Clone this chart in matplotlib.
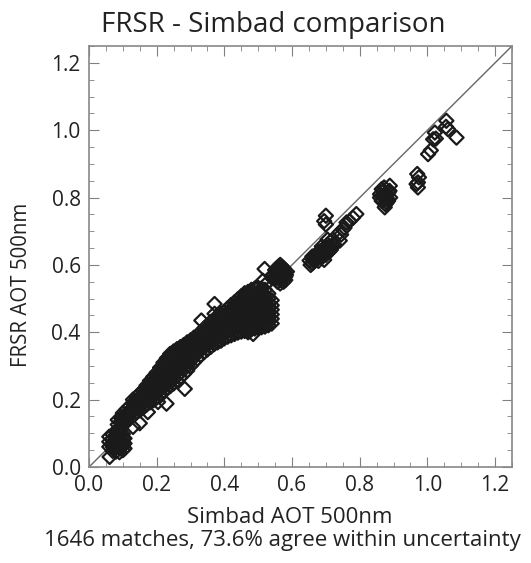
import numpy as np
import matplotlib
matplotlib.use("Agg")
import matplotlib.pyplot as plt
from matplotlib.ticker import MultipleLocator

plt.rcParams['font.family'] = ['Open Sans', 'DejaVu Sans']

# simbad (x) vs frsr (y) AOT at 500nm.
# the dense band is so overplotted that it prints solid black, so it is read
# column by column: x value and the frsr values seen in that column
band_x = [0.06, 0.07, 0.08, 0.09, 0.10, 0.105, 0.085, 0.095,
          0.10, 0.11, 0.12, 0.13, 0.14, 0.15, 0.16, 0.17, 0.18, 0.19,
          0.20, 0.21, 0.22, 0.23, 0.24, 0.25, 0.26, 0.27, 0.28, 0.29,
          0.30, 0.31, 0.32, 0.33, 0.34, 0.35, 0.36, 0.37, 0.38, 0.39,
          0.40, 0.41, 0.42, 0.43, 0.44, 0.45, 0.46, 0.47, 0.48, 0.49,
          0.50, 0.51, 0.52, 0.53, 0.54]
band_y = [
    [0.060, 0.075, 0.090],
    [0.048, 0.060, 0.072, 0.084, 0.096],
    [0.046, 0.058, 0.070, 0.082, 0.094, 0.104],
    [0.044, 0.056, 0.068, 0.080, 0.092, 0.102],
    [0.050, 0.062, 0.074, 0.086, 0.098],
    [0.055, 0.070, 0.085],
    [0.112, 0.126, 0.140],
    [0.116, 0.130, 0.145],
    [0.132, 0.140, 0.150, 0.160],
    [0.135, 0.145, 0.157, 0.170],
    [0.143, 0.155, 0.167, 0.180],
    [0.152, 0.165, 0.177, 0.190, 0.200],
    [0.162, 0.175, 0.186, 0.197, 0.208],
    [0.168, 0.180, 0.193, 0.207, 0.218],
    [0.176, 0.190, 0.203, 0.217, 0.228],
    [0.185, 0.198, 0.209, 0.220, 0.230, 0.242],
    [0.192, 0.205, 0.218, 0.232, 0.245, 0.256],
    [0.198, 0.210, 0.222, 0.234, 0.246, 0.257, 0.268],
    [0.206, 0.220, 0.232, 0.245, 0.258, 0.270, 0.280],
    [0.216, 0.230, 0.243, 0.257, 0.271, 0.285, 0.295],
    [0.224, 0.237, 0.250, 0.263, 0.276, 0.289, 0.300, 0.310],
    [0.232, 0.245, 0.258, 0.272, 0.286, 0.300, 0.313, 0.323],
    [0.240, 0.254, 0.268, 0.283, 0.298, 0.312, 0.326, 0.336],
    [0.248, 0.262, 0.276, 0.290, 0.305, 0.319, 0.333, 0.343],
    [0.256, 0.270, 0.284, 0.298, 0.312, 0.326, 0.340, 0.350],
    [0.266, 0.280, 0.293, 0.306, 0.320, 0.333, 0.346, 0.356],
    [0.276, 0.290, 0.303, 0.315, 0.328, 0.340, 0.353, 0.362],
    [0.286, 0.300, 0.312, 0.324, 0.336, 0.348, 0.360, 0.370],
    [0.300, 0.315, 0.327, 0.340, 0.352, 0.365, 0.376],
    [0.311, 0.326, 0.338, 0.349, 0.361, 0.372, 0.384],
    [0.322, 0.338, 0.348, 0.358, 0.368, 0.378, 0.390],
    [0.332, 0.347, 0.358, 0.369, 0.380, 0.390, 0.401],
    [0.341, 0.356, 0.367, 0.378, 0.389, 0.400, 0.411],
    [0.349, 0.364, 0.376, 0.387, 0.399, 0.410, 0.421],
    [0.357, 0.372, 0.384, 0.396, 0.408, 0.420, 0.431],
    [0.365, 0.380, 0.392, 0.404, 0.416, 0.428, 0.439],
    [0.370, 0.385, 0.398, 0.410, 0.423, 0.435, 0.446],
    [0.375, 0.390, 0.403, 0.416, 0.430, 0.443, 0.454],
    [0.382, 0.397, 0.410, 0.423, 0.437, 0.450, 0.461],
    [0.387, 0.402, 0.414, 0.426, 0.437, 0.449, 0.460, 0.471],
    [0.391, 0.406, 0.419, 0.432, 0.444, 0.457, 0.470, 0.481],
    [0.395, 0.410, 0.424, 0.437, 0.451, 0.464, 0.478, 0.489],
    [0.399, 0.414, 0.428, 0.443, 0.457, 0.472, 0.487, 0.498],
    [0.402, 0.417, 0.430, 0.443, 0.456, 0.470, 0.483, 0.496, 0.507],
    [0.404, 0.419, 0.433, 0.447, 0.462, 0.476, 0.490, 0.505, 0.516],
    [0.407, 0.422, 0.436, 0.450, 0.465, 0.479, 0.494, 0.508, 0.520],
    [0.409, 0.424, 0.438, 0.453, 0.468, 0.482, 0.497, 0.512, 0.526],
    [0.411, 0.426, 0.440, 0.455, 0.469, 0.484, 0.498, 0.513, 0.530],
    [0.413, 0.428, 0.442, 0.456, 0.471, 0.485, 0.500, 0.514, 0.532],
    [0.415, 0.430, 0.444, 0.458, 0.471, 0.485, 0.498, 0.512, 0.530],
    [0.417, 0.432, 0.445, 0.458, 0.471, 0.484, 0.497, 0.510, 0.526],
    [0.421, 0.436, 0.449, 0.462, 0.475, 0.487, 0.500, 0.515],
    [0.426, 0.440, 0.453, 0.467, 0.480, 0.495],
]

# scattered single diamonds around the band
x_out = [0.061, 0.130, 0.150, 0.174, 0.204, 0.229, 0.283, 0.332, 0.371, 0.371,
         0.485, 0.470, 0.100, 0.519, 0.514, 0.520, 0.510]
y_out = [0.030, 0.119, 0.130, 0.163, 0.193, 0.188, 0.232, 0.435, 0.484, 0.455,
         0.395, 0.400, 0.148, 0.588, 0.553, 0.540, 0.520]

# round blob near 0.56
x_blob = [0.550, 0.555, 0.560, 0.565, 0.570, 0.575, 0.580, 0.565, 0.550, 0.575,
          0.560, 0.570, 0.558, 0.572, 0.545, 0.585, 0.565, 0.565,
          0.548, 0.553, 0.557, 0.562, 0.568, 0.573, 0.578, 0.582, 0.560, 0.570,
          0.555, 0.580]
y_blob = [0.560, 0.580, 0.595, 0.555, 0.575, 0.590, 0.565, 0.570, 0.585, 0.550,
          0.565, 0.585, 0.575, 0.562, 0.570, 0.580, 0.545, 0.600,
          0.560, 0.570, 0.550, 0.585, 0.560, 0.570, 0.580, 0.570, 0.580, 0.595,
          0.590, 0.555]

# higher AOT groups
x_high = [0.652, 0.660, 0.665, 0.670, 0.675, 0.680, 0.685, 0.690, 0.695, 0.700,
          0.705, 0.710, 0.700, 0.700, 0.695, 0.720, 0.715, 0.662, 0.672, 0.682,
          0.692, 0.702, 0.688, 0.655, 0.660, 0.668, 0.678, 0.685, 0.695, 0.700,
          0.710, 0.715, 0.720, 0.725, 0.705,
          0.741, 0.741, 0.750, 0.761, 0.770, 0.780, 0.790, 0.755, 0.745,
          0.860, 0.865, 0.870, 0.874, 0.879, 0.885, 0.889, 0.880, 0.875, 0.870,
          0.890, 0.868, 0.882, 0.860, 0.865, 0.872, 0.878, 0.884, 0.888, 0.876,
          0.866,
          0.972, 0.972, 0.975, 0.970, 0.968,
          1.002, 1.010, 1.017, 1.022, 1.025,
          1.056, 1.061, 1.086, 1.055]
y_high = [0.613, 0.625, 0.610, 0.630, 0.620, 0.640, 0.625, 0.645, 0.635, 0.652,
          0.660, 0.640, 0.720, 0.746, 0.730, 0.660, 0.670, 0.615, 0.622, 0.632,
          0.628, 0.642, 0.655, 0.600, 0.605, 0.618, 0.612, 0.638, 0.615, 0.630,
          0.655, 0.645, 0.675, 0.660, 0.675,
          0.672, 0.697, 0.705, 0.726, 0.730, 0.740, 0.751, 0.710, 0.690,
          0.810, 0.790, 0.820, 0.771, 0.800, 0.815, 0.835, 0.785, 0.810, 0.800,
          0.800, 0.805, 0.795, 0.800, 0.825, 0.830, 0.810, 0.790, 0.820, 0.780,
          0.805,
          0.830, 0.845, 0.860, 0.870, 0.840,
          0.929, 0.940, 0.973, 0.993, 0.975,
          1.028, 1.003, 0.978, 1.010]

simbad = [bx for bx, col in zip(band_x, band_y) for _ in col] + x_out + x_blob + x_high
frsr = [v for col in band_y for v in col] + y_out + y_blob + y_high

fig = plt.figure(figsize=(5.31, 5.63), dpi=100)
ax = fig.add_axes([0.1676, 0.1705, 0.7966, 0.7478])

ax.plot([0, 1.25], [0, 1.25], color='#666666', lw=1.0, zorder=1)
ax.scatter(simbad, frsr, marker='D', s=52, facecolors='none',
           edgecolors='#1a1a1a', linewidths=1.6, zorder=2)

ax.set_xlim(0, 1.25)
ax.set_ylim(0, 1.25)
ax.xaxis.set_major_locator(MultipleLocator(0.2))
ax.yaxis.set_major_locator(MultipleLocator(0.2))
ax.xaxis.set_minor_locator(MultipleLocator(0.05))
ax.yaxis.set_minor_locator(MultipleLocator(0.05))
ax.xaxis.set_major_formatter(plt.FormatStrFormatter('%.1f'))
ax.yaxis.set_major_formatter(plt.FormatStrFormatter('%.1f'))
ax.tick_params(which='both', direction='in', top=True, right=True,
               color='#808080', labelsize=15, pad=6, labelcolor='#222222')
ax.tick_params(which='major', length=7)
ax.tick_params(which='minor', length=3.5)
for sp in ax.spines.values():
    sp.set_color('#888888')
    sp.set_linewidth(1.2)

fig.text(0.514, 0.955, 'FRSR - Simbad comparison', ha='center', va='center',
         fontsize=20, color='#222222')
fig.text(0.545, 0.080, 'Simbad AOT 500nm', ha='center', va='center',
         fontsize=16, color='#222222')
fig.text(0.532, 0.040, '1646 matches, 73.6% agree within uncertainty',
         ha='center', va='center', fontsize=16, color='#222222')
fig.text(0.040, 0.494, 'FRSR AOT 500nm', ha='center', va='center', rotation=90,
         fontsize=14.8, color='#222222')

fig.savefig('out.png', dpi=100)
